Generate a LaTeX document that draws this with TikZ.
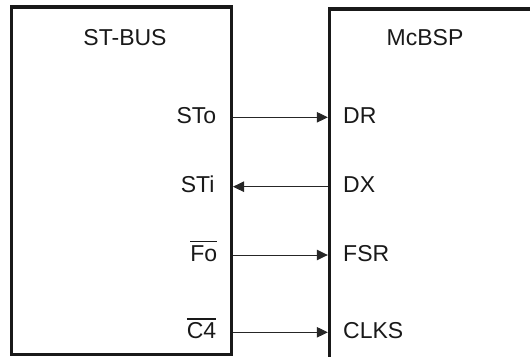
\documentclass[tikz,border=0pt]{standalone}
\usepackage{fontspec}
\setmainfont{Liberation Sans}
\usetikzlibrary{arrows.meta}
\begin{document}
\begin{tikzpicture}[x=1bp,y=1bp,
  box/.style={draw=black!90, line width=3.4bp, inner sep=0pt, rectangle},
  lbl/.style={inner sep=0pt, font=\fontsize{23bp}{27bp}\selectfont, text=black!90},
  arr/.style={draw=black!85, line width=1bp, -{Triangle[length=11bp,width=10.5bp]}}]
\useasboundingbox (0,0) rectangle (530,356);
\clip (0,0) rectangle (530,356);
\node[box, minimum width=220bp, minimum height=347.5bp] (L) at (121.3,175.25) {};
\node[box, minimum width=220bp, minimum height=350bp] (R) at (439.5,172) {};
\node[lbl, anchor=base] (hl) at (125,311) {ST-BUS};
\node[lbl, anchor=base] (hr) at (425,311) {McBSP};
\node[lbl, anchor=base east] (sto) at (216.4,232.7) {STo};
\node[lbl, anchor=base east] (sti) at (214.7,163.3) {STi};
\node[lbl, anchor=base east] (fo) at (217.4,95) {\setbox0\hbox{Fo}\rlap{\rule[18.6bp]{\wd0}{1.3bp}}\box0};
\node[lbl, anchor=base east] (cf) at (216.4,17.7) {\setbox0\hbox{C4}\rlap{\rule[18.6bp]{\wd0}{1.3bp}}\box0};
\node[lbl, anchor=base west] (dr) at (343,232.7) {DR};
\node[lbl, anchor=base west] (dx) at (343,163.3) {DX};
\node[lbl, anchor=base west] (fsr) at (343,95) {FSR};
\node[lbl, anchor=base west] (clks) at (343,17.7) {CLKS};
\draw[arr] ([yshift=6bp]sto.base -| L.east) -- ([yshift=6bp]dr.base -| R.west);
\draw[arr] ([yshift=6bp]dx.base -| R.west) -- ([yshift=6bp]sti.base -| L.east);
\draw[arr] ([yshift=6bp]fo.base -| L.east) -- ([yshift=6bp]fsr.base -| R.west);
\draw[arr] ([yshift=6bp]cf.base -| L.east) -- ([yshift=6bp]clks.base -| R.west);
\end{tikzpicture}
\end{document}
